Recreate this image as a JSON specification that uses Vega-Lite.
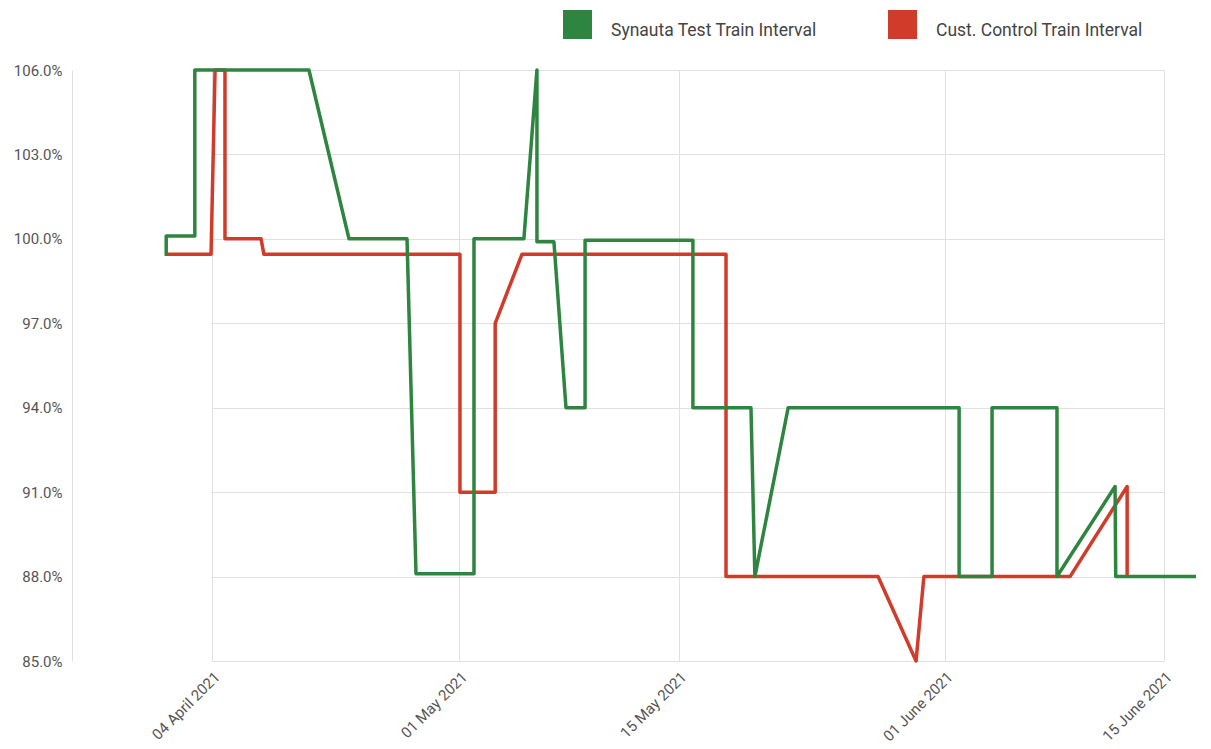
{
  "$schema": "https://vega.github.io/schema/vega-lite/v6.json",
  "width": 1131,
  "height": 591,
  "autosize": {"type": "none"},
  "padding": {"left": 72, "top": 70, "right": 8, "bottom": 88},
  "config": {"view": {"stroke": null}, "font": "Roboto"},
  "data": {
    "format": {"parse": {"date": "date"}},
    "values": [
      {"series": "Cust. Control Train Interval", "i": 1, "date": "2021-03-29T21:00Z", "value": 0.9945},
      {"series": "Cust. Control Train Interval", "i": 2, "date": "2021-04-03T21:30Z", "value": 0.9945},
      {"series": "Cust. Control Train Interval", "i": 3, "date": "2021-04-04T08:00Z", "value": 1.06},
      {"series": "Cust. Control Train Interval", "i": 4, "date": "2021-04-05T10:00Z", "value": 1.06},
      {"series": "Cust. Control Train Interval", "i": 5, "date": "2021-04-05T10:00Z", "value": 1.0},
      {"series": "Cust. Control Train Interval", "i": 6, "date": "2021-04-09T08:30Z", "value": 1.0},
      {"series": "Cust. Control Train Interval", "i": 7, "date": "2021-04-09T16:00Z", "value": 0.9945},
      {"series": "Cust. Control Train Interval", "i": 8, "date": "2021-05-01T01:00Z", "value": 0.9945},
      {"series": "Cust. Control Train Interval", "i": 9, "date": "2021-05-01T01:00Z", "value": 0.91},
      {"series": "Cust. Control Train Interval", "i": 10, "date": "2021-05-03T07:00Z", "value": 0.91},
      {"series": "Cust. Control Train Interval", "i": 11, "date": "2021-05-03T07:00Z", "value": 0.97},
      {"series": "Cust. Control Train Interval", "i": 12, "date": "2021-05-05T00:00Z", "value": 0.9945},
      {"series": "Cust. Control Train Interval", "i": 13, "date": "2021-05-18T00:45Z", "value": 0.9945},
      {"series": "Cust. Control Train Interval", "i": 14, "date": "2021-05-18T00:45Z", "value": 0.88},
      {"series": "Cust. Control Train Interval", "i": 15, "date": "2021-05-27T17:45Z", "value": 0.88},
      {"series": "Cust. Control Train Interval", "i": 16, "date": "2021-05-30T04:00Z", "value": 0.85},
      {"series": "Cust. Control Train Interval", "i": 17, "date": "2021-05-30T16:00Z", "value": 0.88},
      {"series": "Cust. Control Train Interval", "i": 18, "date": "2021-06-09T00:00Z", "value": 0.88},
      {"series": "Cust. Control Train Interval", "i": 19, "date": "2021-06-12T15:30Z", "value": 0.912},
      {"series": "Cust. Control Train Interval", "i": 20, "date": "2021-06-12T15:30Z", "value": 0.88},
      {"series": "Synauta Test Train Interval", "i": 1, "date": "2021-03-30T00:00Z", "value": 0.994},
      {"series": "Synauta Test Train Interval", "i": 2, "date": "2021-03-30T00:00Z", "value": 1.001},
      {"series": "Synauta Test Train Interval", "i": 3, "date": "2021-04-02T03:00Z", "value": 1.001},
      {"series": "Synauta Test Train Interval", "i": 4, "date": "2021-04-02T03:00Z", "value": 1.06},
      {"series": "Synauta Test Train Interval", "i": 5, "date": "2021-04-14T14:00Z", "value": 1.06},
      {"series": "Synauta Test Train Interval", "i": 6, "date": "2021-04-18T23:00Z", "value": 1.0},
      {"series": "Synauta Test Train Interval", "i": 7, "date": "2021-04-25T07:00Z", "value": 1.0},
      {"series": "Synauta Test Train Interval", "i": 8, "date": "2021-04-26T06:30Z", "value": 0.881},
      {"series": "Synauta Test Train Interval", "i": 9, "date": "2021-05-01T22:30Z", "value": 0.881},
      {"series": "Synauta Test Train Interval", "i": 10, "date": "2021-05-01T22:30Z", "value": 1.0},
      {"series": "Synauta Test Train Interval", "i": 11, "date": "2021-05-05T03:00Z", "value": 1.0},
      {"series": "Synauta Test Train Interval", "i": 12, "date": "2021-05-05T23:00Z", "value": 1.06},
      {"series": "Synauta Test Train Interval", "i": 13, "date": "2021-05-05T23:00Z", "value": 0.999},
      {"series": "Synauta Test Train Interval", "i": 14, "date": "2021-05-07T01:00Z", "value": 0.999},
      {"series": "Synauta Test Train Interval", "i": 15, "date": "2021-05-07T19:30Z", "value": 0.94},
      {"series": "Synauta Test Train Interval", "i": 16, "date": "2021-05-09T00:45Z", "value": 0.94},
      {"series": "Synauta Test Train Interval", "i": 17, "date": "2021-05-09T00:45Z", "value": 0.9995},
      {"series": "Synauta Test Train Interval", "i": 18, "date": "2021-05-15T22:00Z", "value": 0.9995},
      {"series": "Synauta Test Train Interval", "i": 19, "date": "2021-05-15T22:00Z", "value": 0.94},
      {"series": "Synauta Test Train Interval", "i": 20, "date": "2021-05-19T15:00Z", "value": 0.94},
      {"series": "Synauta Test Train Interval", "i": 21, "date": "2021-05-19T21:00Z", "value": 0.88},
      {"series": "Synauta Test Train Interval", "i": 22, "date": "2021-05-22T00:00Z", "value": 0.94},
      {"series": "Synauta Test Train Interval", "i": 23, "date": "2021-06-01T22:00Z", "value": 0.94},
      {"series": "Synauta Test Train Interval", "i": 24, "date": "2021-06-01T22:00Z", "value": 0.88},
      {"series": "Synauta Test Train Interval", "i": 25, "date": "2021-06-04T00:30Z", "value": 0.88},
      {"series": "Synauta Test Train Interval", "i": 26, "date": "2021-06-04T00:30Z", "value": 0.94},
      {"series": "Synauta Test Train Interval", "i": 27, "date": "2021-06-08T04:00Z", "value": 0.94},
      {"series": "Synauta Test Train Interval", "i": 28, "date": "2021-06-08T04:00Z", "value": 0.88},
      {"series": "Synauta Test Train Interval", "i": 29, "date": "2021-06-11T21:00Z", "value": 0.912},
      {"series": "Synauta Test Train Interval", "i": 30, "date": "2021-06-11T22:00Z", "value": 0.88},
      {"series": "Synauta Test Train Interval", "i": 31, "date": "2021-06-17T01:00Z", "value": 0.88}
    ]
  },
  "mark": {"type": "line", "strokeWidth": 3.5, "strokeJoin": "round"},
  "encoding": {
    "x": {
      "field": "date",
      "type": "quantitative",
      "scale": {
        "type": "linear",
        "domain": [1617494400000, 1619827200000, 1623715200000],
        "range": [140, 387.3, 1092],
        "nice": false,
        "zero": false
      },
      "axis": {
        "title": null,
        "values": [1617494400000, 1619827200000, 1621036800000, 1622505600000, 1623715200000],
        "labelExpr": "utcFormat(datum.value, '%d %B %Y')",
        "labelAngle": -45,
        "labelFontSize": 15,
        "labelColor": "#555555",
        "labelPadding": 8,
        "ticks": false,
        "domain": false,
        "grid": true,
        "gridColor": "#e0e0e0",
        "labelFlush": false,
        "labelOverlap": false
      }
    },
    "y": {
      "field": "value",
      "type": "quantitative",
      "scale": {"domain": [0.85, 1.06], "nice": false, "zero": false},
      "axis": {
        "title": null,
        "values": [0.85, 0.88, 0.91, 0.94, 0.97, 1.0, 1.03, 1.06],
        "format": ".1%",
        "labelFontSize": 15,
        "labelColor": "#555555",
        "labelPadding": 10,
        "ticks": false,
        "domain": true,
        "domainColor": "#e0e0e0",
        "gridColor": "#e0e0e0"
      }
    },
    "color": {
      "field": "series",
      "type": "nominal",
      "scale": {
        "domain": ["Synauta Test Train Interval", "Cust. Control Train Interval"],
        "range": ["#2e8540", "#d13b2a"]
      },
      "legend": {
        "title": null,
        "orient": "none",
        "legendX": 491,
        "legendY": -60,
        "direction": "horizontal",
        "symbolType": "square",
        "symbolSize": 841,
        "symbolStrokeWidth": 0,
        "symbolOpacity": 1,
        "labelFontSize": 17.5,
        "labelColor": "#444444",
        "labelOffset": 19,
        "labelLimit": 400,
        "columnPadding": 71,
        "padding": 0,
        "encode": {
          "symbols": {"update": {"fill": {"scale": "color", "field": "value"}, "fillOpacity": {"value": 1}}},
          "labels": {"update": {"dy": {"value": 6}}}
        }
      }
    },
    "order": {"field": "i", "type": "quantitative"}
  }
}
